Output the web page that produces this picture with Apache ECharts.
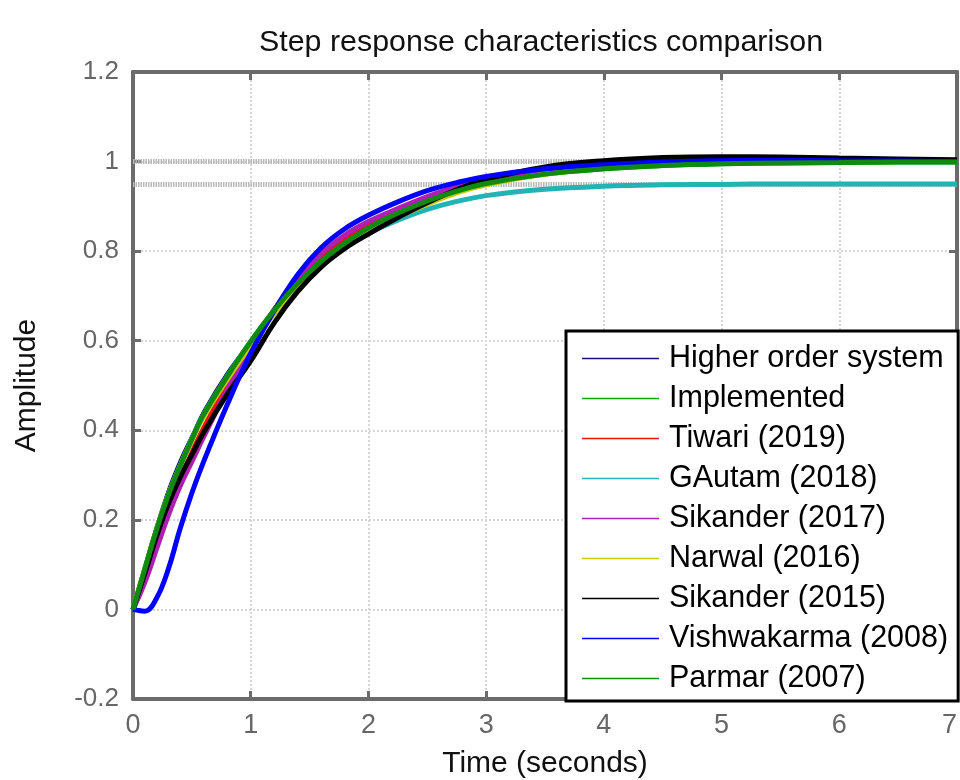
<!DOCTYPE html>
<html>
<head>
<meta charset="utf-8">
<script src="https://cdn.jsdelivr.net/npm/echarts@6/dist/echarts.min.js"></script>
<style>html,body{margin:0;padding:0;background:#fff}#c{width:960px;height:780px}</style>
</head>
<body>
<div id="c"></div>
<script>
const titleText = 'Step response characteristics comparison';
const xName = 'Time (seconds)';
const yName = 'Amplitude';
const xTicks = [0, 1, 2, 3, 4, 5, 6, 7];
const yTicks = [-0.2, 0, 0.2, 0.4, 0.6, 0.8, 1, 1.2];
const refLevels = [1, 0.95];

const time = [0,0.1,0.2,0.3,0.4,0.5,0.6,0.8,1.0,1.2,1.4,1.6,1.8,2.0,2.25,2.5,2.75,3,3.5,4,4.5,5,5.5,6,6.5,7];

const seriesNames = ['Higher order system','Implemented','Tiwari (2019)','GAutam (2018)','Sikander (2017)','Narwal (2016)','Sikander (2015)','Vishwakarma (2008)','Parmar (2007)'];

const higherOrder  = [0,0.100,0.190,0.270,0.335,0.390,0.445,0.530,0.600,0.668,0.728,0.778,0.820,0.852,0.886,0.916,0.940,0.958,0.983,0.997,1.004,1.007,1.007,1.006,1.004,1.003];
const implemented  = [0,0.090,0.178,0.255,0.320,0.380,0.435,0.520,0.598,0.668,0.728,0.778,0.818,0.852,0.885,0.912,0.934,0.951,0.972,0.984,0.991,0.995,0.997,0.998,0.999,0.999];
const tiwari       = [0,0.070,0.150,0.225,0.290,0.350,0.405,0.500,0.590,0.668,0.735,0.787,0.828,0.860,0.890,0.917,0.939,0.956,0.978,0.990,0.996,0.999,1.000,1.000,1.000,1.000];
const gautam       = [0,0.090,0.178,0.255,0.320,0.380,0.435,0.520,0.598,0.666,0.725,0.773,0.810,0.840,0.869,0.893,0.911,0.924,0.938,0.945,0.948,0.949,0.950,0.950,0.950,0.950];
const sikander2017 = [0,0.060,0.135,0.210,0.275,0.330,0.385,0.490,0.585,0.670,0.740,0.795,0.836,0.866,0.895,0.922,0.944,0.961,0.982,0.992,0.997,0.999,1.000,1.000,1.000,1.000];
const narwal       = [0,0.090,0.178,0.255,0.320,0.378,0.430,0.513,0.590,0.660,0.720,0.770,0.810,0.842,0.876,0.905,0.930,0.948,0.972,0.986,0.994,0.998,1.000,1.000,1.000,1.000];
const sikander2015 = [0,0.080,0.163,0.235,0.295,0.345,0.395,0.480,0.555,0.640,0.710,0.765,0.806,0.838,0.875,0.908,0.937,0.960,0.988,1.002,1.009,1.011,1.010,1.008,1.006,1.004];
const vishwakarma  = [0,-0.004,0.025,0.090,0.180,0.260,0.330,0.457,0.572,0.667,0.748,0.808,0.850,0.880,0.910,0.935,0.953,0.967,0.984,0.993,0.999,1.002,1.003,1.002,1.001,1.000];
const parmar       = [0,0.090,0.178,0.255,0.320,0.380,0.435,0.520,0.598,0.668,0.728,0.778,0.818,0.852,0.885,0.912,0.934,0.951,0.972,0.984,0.991,0.995,0.997,0.998,0.999,0.999];

const allValues = [higherOrder, implemented, tiwari, gautam, sikander2017, narwal, sikander2015, vishwakarma, parmar];
const colors = ['#14147a','#00aa00','#ee1111','#22b4b4','#b020b0','#c8c800','#000000','#0000ff','#108a10'];
const widths = [2, 5, 5, 5, 5, 5, 5, 5, 5];

const axisGray = '#6b6b6b';
const font = 'Liberation Sans, Arial, sans-serif';

const series = allValues.map((vals, i) => {
  const s = {
    name: seriesNames[i],
    type: 'line',
    data: vals.map((v, k) => [time[k], v]),
    smooth: 0.4,
    showSymbol: false,
    symbol: 'none',
    color: colors[i],
    lineStyle: { width: widths[i], color: colors[i] },
    itemStyle: { color: colors[i] },
    z: 3 + i,
    clip: true
  };
  if (i === 0) {
    s.markLine = {
      silent: true,
      symbol: 'none',
      label: { show: false },
      z: 2,
      lineStyle: { color: '#b8b8b8', width: 5, type: [1.5, 1] },
      data: refLevels.map(v => ({ yAxis: v }))
    };
  }
  return s;
});

const chart = echarts.init(document.getElementById('c'), null, { renderer: 'canvas' });
const xMin = xTicks[0], xMax = xTicks[xTicks.length - 1], xInt = xTicks[1] - xTicks[0];
const yMin = yTicks[0], yMax = yTicks[yTicks.length - 1], yInt = +(yTicks[1] - yTicks[0]).toFixed(4);

chart.setOption({
  animation: false,
  backgroundColor: '#ffffff',
  title: {
    text: titleText, left: 254, top: 23,
    textStyle: { fontFamily: font, fontSize: 30.4, fontWeight: 'normal', color: '#111' }
  },
  grid: { left: 133, right: 3, top: 72, bottom: 81, containLabel: false, outerBoundsMode: 'none' },
  legend: {
    orient: 'vertical', left: 566, top: 331,
    icon: 'rect', itemWidth: 77, itemHeight: 1.5, itemGap: 9,
    padding: [12, 10, 7, 16],
    backgroundColor: '#ffffff', borderColor: '#000', borderWidth: 3, borderRadius: 0,
    textStyle: { fontFamily: font, fontSize: 30.5, color: '#000', lineHeight: 30, padding: [0, 0, 0, 5] },
    data: seriesNames
  },
  xAxis: [{
    type: 'value', min: xMin, max: xMax, interval: xInt,
    name: xName, nameLocation: 'middle', nameGap: 50,
    nameTextStyle: { fontFamily: font, fontSize: 30, color: '#111' },
    axisLine: { show: true, onZero: false, lineStyle: { color: axisGray, width: 4 } },
    axisTick: { show: true, inside: true, length: 8, lineStyle: { color: axisGray, width: 3 } },
    axisLabel: { fontFamily: font, fontSize: 27, color: '#666', margin: 13, alignMaxLabel: 'right' },
    splitLine: { show: true, lineStyle: { color: '#d6d6d6', width: 2, type: [2, 2] } }
  }, {
    type: 'value', position: 'top', min: xMin, max: xMax, interval: xInt,
    axisLine: { show: true, onZero: false, lineStyle: { color: axisGray, width: 4 } },
    axisTick: { show: true, inside: true, length: 8, lineStyle: { color: axisGray, width: 3 } },
    axisLabel: { show: false }, splitLine: { show: false }
  }],
  yAxis: [{
    type: 'value', min: yMin, max: yMax, interval: yInt,
    name: yName, nameLocation: 'middle', nameGap: 91, nameRotate: 90,
    nameTextStyle: { fontFamily: font, fontSize: 30, color: '#111' },
    axisLine: { show: true, onZero: false, lineStyle: { color: axisGray, width: 4 } },
    axisTick: { show: true, inside: true, length: 8, lineStyle: { color: axisGray, width: 3 } },
    axisLabel: { fontFamily: font, fontSize: 26, color: '#666', margin: 14 },
    splitLine: { show: true, lineStyle: { color: '#d6d6d6', width: 2, type: [2, 2] } }
  }, {
    type: 'value', position: 'right', min: yMin, max: yMax, interval: yInt,
    axisLine: { show: true, onZero: false, lineStyle: { color: axisGray, width: 4 } },
    axisTick: { show: true, inside: true, length: 8, lineStyle: { color: axisGray, width: 3 } },
    axisLabel: { show: false }, splitLine: { show: false }
  }],
  series: series
});
</script>
</body>
</html>
